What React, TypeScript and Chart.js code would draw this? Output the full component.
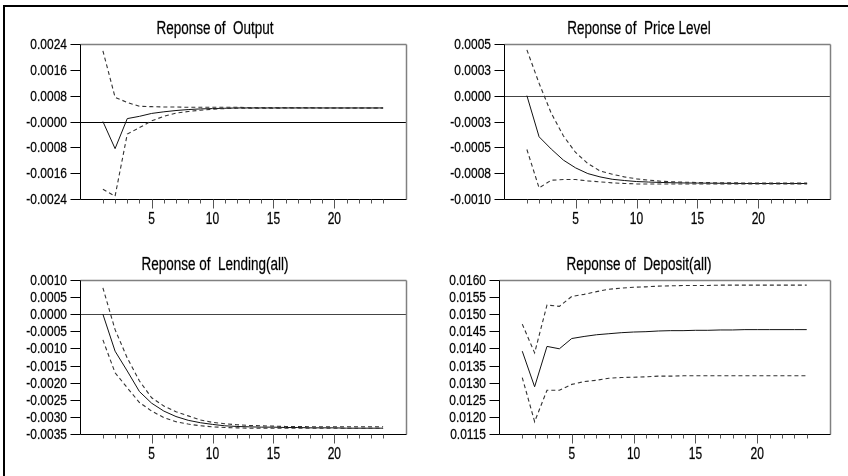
import React, { useEffect, useRef } from "react";
import { Chart, registerables } from "chart.js";

Chart.register(...registerables);

// ---------- data ----------
const periods = [1, 2, 3, 4, 5, 6, 7, 8, 9, 10, 11, 12, 13, 14, 15, 16, 17, 18, 19, 20, 21, 22, 23, 24];
const xLabelValues = [5, 10, 15, 20];

const outputTitle = "Reponse of  Output";
const outputResponse = [0, -0.00084, 0.00009, 0.00016, 0.00025, 0.0003, 0.00034, 0.00037, 0.00039, 0.0004, 0.00041, 0.00042, 0.00042, 0.00042, 0.00042, 0.00042, 0.00042, 0.00042, 0.00042, 0.00042, 0.00042, 0.00042, 0.00042, 0.00042];
const outputUpper = [0.00219, 0.00075, 0.00059, 0.00047, 0.00046, 0.00045, 0.00045, 0.00044, 0.00044, 0.00044, 0.00044, 0.00044, 0.00043, 0.00043, 0.00043, 0.00043, 0.00043, 0.00043, 0.00042, 0.00042, 0.00042, 0.00042, 0.00042, 0.00042];
const outputLower = [-0.0021, -0.00231, -0.00039, -0.00019, 0.00002, 0.00016, 0.00026, 0.00031, 0.00035, 0.00038, 0.0004, 0.00041, 0.00041, 0.00041, 0.00041, 0.00042, 0.00042, 0.00042, 0.00042, 0.00042, 0.00042, 0.00042, 0.00042, 0.00042];
const outputTickValues = [0.0024, 0.0016, 0.0008, 0, -0.0008, -0.0016, -0.0024];
const outputTickLabels = ["0.0024", "0.0016", "0.0008", "-0.0000", "-0.0008", "-0.0016", "-0.0024"];

const priceTitle = "Reponse of  Price Level";
const priceResponse = [0, -0.000398, -0.000517, -0.000624, -0.000699, -0.000754, -0.000786, -0.000809, -0.000821, -0.000831, -0.000836, -0.00084, -0.000843, -0.000845, -0.000846, -0.000847, -0.000848, -0.000849, -0.00085, -0.00085, -0.00085, -0.00085, -0.00085, -0.00085];
const priceUpper = [0.000443, 0.00012, -0.00017, -0.00039, -0.00055, -0.000657, -0.000728, -0.00076, -0.000786, -0.000805, -0.000818, -0.000828, -0.000834, -0.000838, -0.00084, -0.000842, -0.000843, -0.000844, -0.000845, -0.000845, -0.000845, -0.000845, -0.000845, -0.000845];
const priceLower = [-0.000521, -0.000893, -0.000818, -0.000812, -0.000812, -0.000825, -0.000834, -0.000844, -0.00085, -0.000854, -0.000855, -0.000855, -0.000855, -0.000855, -0.000855, -0.000855, -0.000855, -0.000855, -0.000855, -0.000855, -0.000855, -0.000855, -0.000855, -0.000855];
const priceTickValues = [0.0005, 0.00025, 0, -0.00025, -0.0005, -0.00075, -0.001];
const priceTickLabels = ["0.0005", "0.0003", "0.0000", "-0.0003", "-0.0005", "-0.0008", "-0.0010"];

const lendingTitle = "Reponse of  Lending(all)";
const lendingResponse = [0, -0.00108, -0.00166, -0.00226, -0.0026, -0.00283, -0.00299, -0.0031, -0.00317, -0.00322, -0.00326, -0.00328, -0.00329, -0.0033, -0.0033, -0.00331, -0.00331, -0.00332, -0.00332, -0.00332, -0.00333, -0.00333, -0.00333, -0.00333];
const lendingUpper = [0.00077, -0.00045, -0.00128, -0.00195, -0.00244, -0.00268, -0.00285, -0.00297, -0.00309, -0.00316, -0.0032, -0.00323, -0.00325, -0.00326, -0.00327, -0.00328, -0.00328, -0.00329, -0.00329, -0.00329, -0.00329, -0.00329, -0.00329, -0.00329];
const lendingLower = [-0.00075, -0.00171, -0.00215, -0.00258, -0.00283, -0.00302, -0.00314, -0.00321, -0.00326, -0.00329, -0.00331, -0.00332, -0.00333, -0.00333, -0.00333, -0.00333, -0.00333, -0.00333, -0.00333, -0.00333, -0.00333, -0.00333, -0.00333, -0.00333];
const lendingTickValues = [0.001, 0.0005, 0, -0.0005, -0.001, -0.0015, -0.002, -0.0025, -0.003, -0.0035];
const lendingTickLabels = ["0.0010", "0.0005", "0.0000", "-0.0005", "-0.0010", "-0.0015", "-0.0020", "-0.0025", "-0.0030", "-0.0035"];

const depositTitle = "Reponse of  Deposit(all)";
const depositResponse = [0.01392, 0.01288, 0.01406, 0.01399, 0.01429, 0.01435, 0.0144, 0.01443, 0.01446, 0.01448, 0.01449, 0.01451, 0.01452, 0.01452, 0.01453, 0.01453, 0.01454, 0.01454, 0.01455, 0.01455, 0.01455, 0.01455, 0.01455, 0.01455];
const depositUpper = [0.01471, 0.01387, 0.01527, 0.01523, 0.01552, 0.01558, 0.01566, 0.01573, 0.01576, 0.01579, 0.0158, 0.01582, 0.01583, 0.01584, 0.01584, 0.01584, 0.01585, 0.01585, 0.01585, 0.01585, 0.01585, 0.01585, 0.01585, 0.01585];
const depositLower = [0.01315, 0.01186, 0.01278, 0.01278, 0.01295, 0.01303, 0.01307, 0.01313, 0.01315, 0.01316, 0.01317, 0.01319, 0.01319, 0.0132, 0.0132, 0.0132, 0.0132, 0.0132, 0.0132, 0.0132, 0.0132, 0.0132, 0.0132, 0.0132];
const depositTickValues = [0.016, 0.0155, 0.015, 0.0145, 0.014, 0.0135, 0.013, 0.0125, 0.012, 0.0115];
const depositTickLabels = ["0.0160", "0.0155", "0.0150", "0.0145", "0.0140", "0.0135", "0.0130", "0.0125", "0.0120", "0.0115"];

// ---------- layout ----------
type Panel = {
  key: string;
  title: string;
  response: number[];
  upper: number[];
  lower: number[];
  tickValues: number[];
  tickLabels: string[];
  left: number;
  top: number;
  pad: { left: number; top: number; right: number; bottom: number };
  titleBaseline: number;
  zeroColor: string | null;
};

const PANEL_W = 424;
const PANEL_H = 238;
const FONT = '"Liberation Sans", Arial, Helvetica, sans-serif';

const panels: Panel[] = [
  { key: "output", title: outputTitle, response: outputResponse, upper: outputUpper, lower: outputLower, tickValues: outputTickValues, tickLabels: outputTickLabels, left: 0, top: 0, pad: { left: 80, top: 44, right: 18, bottom: 39 }, titleBaseline: 34, zeroColor: "#000" },
  { key: "price", title: priceTitle, response: priceResponse, upper: priceUpper, lower: priceLower, tickValues: priceTickValues, tickLabels: priceTickLabels, left: 424, top: 0, pad: { left: 80, top: 44, right: 18, bottom: 39 }, titleBaseline: 34, zeroColor: "#444" },
  { key: "lending", title: lendingTitle, response: lendingResponse, upper: lendingUpper, lower: lendingLower, tickValues: lendingTickValues, tickLabels: lendingTickLabels, left: 0, top: 238, pad: { left: 80, top: 42, right: 18, bottom: 42 }, titleBaseline: 32, zeroColor: "#444" },
  { key: "deposit", title: depositTitle, response: depositResponse, upper: depositUpper, lower: depositLower, tickValues: depositTickValues, tickLabels: depositTickLabels, left: 424, top: 238, pad: { left: 75, top: 42, right: 18, bottom: 42 }, titleBaseline: 32, zeroColor: null },
];

function drawText(ctx: CanvasRenderingContext2D, text: string, x: number, y: number, size: number, align: CanvasTextAlign, baseline: CanvasTextBaseline, sy: number) {
  ctx.save();
  ctx.font = `${size}px ${FONT}`;
  ctx.fillStyle = "#000";
  ctx.strokeStyle = "rgba(0,0,0,0.55)";
  ctx.lineWidth = 0.35;
  ctx.textAlign = align;
  ctx.textBaseline = baseline;
  ctx.translate(x, y);
  ctx.scale(1, sy);
  ctx.fillText(text, 0, 0);
  ctx.strokeText(text, 0, 0);
  ctx.restore();
}

function line(ctx: CanvasRenderingContext2D, x1: number, y1: number, x2: number, y2: number, color: string, w = 1) {
  ctx.save();
  ctx.strokeStyle = color;
  ctx.lineWidth = w;
  ctx.setLineDash([]);
  ctx.beginPath();
  ctx.moveTo(x1, y1);
  ctx.lineTo(x2, y2);
  ctx.stroke();
  ctx.restore();
}

function makePlugin(p: Panel) {
  return {
    id: "irfDecor_" + p.key,
    beforeDatasetsDraw(chart: any) {
      const ctx = chart.ctx as CanvasRenderingContext2D;
      const a = chart.chartArea;
      const ys = chart.scales.y;
      const L = Math.round(a.left) + 0.5;
      const R = Math.round(a.right) + 0.5;
      const T = Math.round(a.top) + 0.5;
      if (p.zeroColor) {
        const y0 = Math.round(ys.getPixelForValue(0)) + 0.5;
        line(ctx, L, y0, R, y0, p.zeroColor, 1);
      }
      line(ctx, L, T, R, T, "#808080", 1.5);
      line(ctx, R, T, R, Math.round(a.bottom) + 0.5, "#808080", 1.5);
    },
    afterDatasetsDraw(chart: any) {
      const ctx = chart.ctx as CanvasRenderingContext2D;
      const a = chart.chartArea;
      const xs = chart.scales.x;
      const ys = chart.scales.y;
      const L = Math.round(a.left) + 0.5;
      const R = Math.round(a.right) + 0.5;
      const T = Math.round(a.top) + 0.5;
      const B = Math.round(a.bottom) + 0.5;
      line(ctx, L, T, L, B, "#000", 1);
      line(ctx, L, B, R, B, "#000", 1);
      // y ticks + labels
      p.tickValues.forEach((v, i) => {
        const y = Math.round(ys.getPixelForValue(v)) + 0.5;
        line(ctx, L - 10, y, L, y, "#000", 1);
        drawText(ctx, p.tickLabels[i], a.left - 13, y, 12, "right", "middle", 1.28);
      });
      // x ticks + labels
      periods.forEach((v) => {
        const x = Math.round(xs.getPixelForValue(v)) + 0.5;
        const major = xLabelValues.includes(v);
        line(ctx, x, B, x, B + (major ? 9 : 4), "#555", 1);
      });
      xLabelValues.forEach((v) => {
        const x = xs.getPixelForValue(v);
        drawText(ctx, String(v), x, a.bottom + 20.5, 12, "center", "middle", 1.3);
      });
      // title
      drawText(ctx, p.title, 215, p.titleBaseline, 13.5, "center", "alphabetic", 1.4);
    },
  };
}

function PanelChart({ p }: { p: Panel }) {
  const ref = useRef<HTMLCanvasElement | null>(null);
  useEffect(() => {
    if (!ref.current) return;
    const toPts = (arr: number[]) => periods.map((x, i) => ({ x, y: arr[i] }));
    const chart = new Chart(ref.current, {
      type: "line",
      data: {
        datasets: [
          { data: toPts(p.upper), borderColor: "#333", borderWidth: 1.1, borderDash: [4, 3], pointRadius: 0, fill: false, tension: 0 },
          { data: toPts(p.lower), borderColor: "#333", borderWidth: 1.1, borderDash: [4, 3], pointRadius: 0, fill: false, tension: 0 },
          { data: toPts(p.response), borderColor: "#111", borderWidth: 1, pointRadius: 0, fill: false, tension: 0 },
        ],
      },
      options: {
        responsive: false,
        animation: false,
        devicePixelRatio: 1,
        layout: { padding: p.pad },
        plugins: { legend: { display: false }, tooltip: { enabled: false }, title: { display: false } },
        events: [],
        scales: {
          x: { type: "linear", display: false, min: -0.88, max: 25.88 },
          y: { type: "linear", display: false, min: p.tickValues[p.tickValues.length - 1], max: p.tickValues[0] },
        },
      },
      plugins: [makePlugin(p)],
    } as any);
    return () => chart.destroy();
  }, [p]);
  return (
    <div style={{ position: "absolute", left: p.left, top: p.top, width: PANEL_W, height: PANEL_H }}>
      <canvas ref={ref} width={PANEL_W} height={PANEL_H} style={{ display: "block", width: PANEL_W, height: PANEL_H }} />
    </div>
  );
}

export default function App() {
  return (
    <div style={{ position: "absolute", left: 0, top: 0, width: 848, height: 476, background: "#fff", overflow: "hidden" }}>
      {panels.map((p) => (
        <PanelChart key={p.key} p={p} />
      ))}
      <div style={{ position: "absolute", left: 3, top: 5, width: 900, height: 600, borderTop: "2px solid #000", borderLeft: "2px solid #000", pointerEvents: "none" }} />
    </div>
  );
}
